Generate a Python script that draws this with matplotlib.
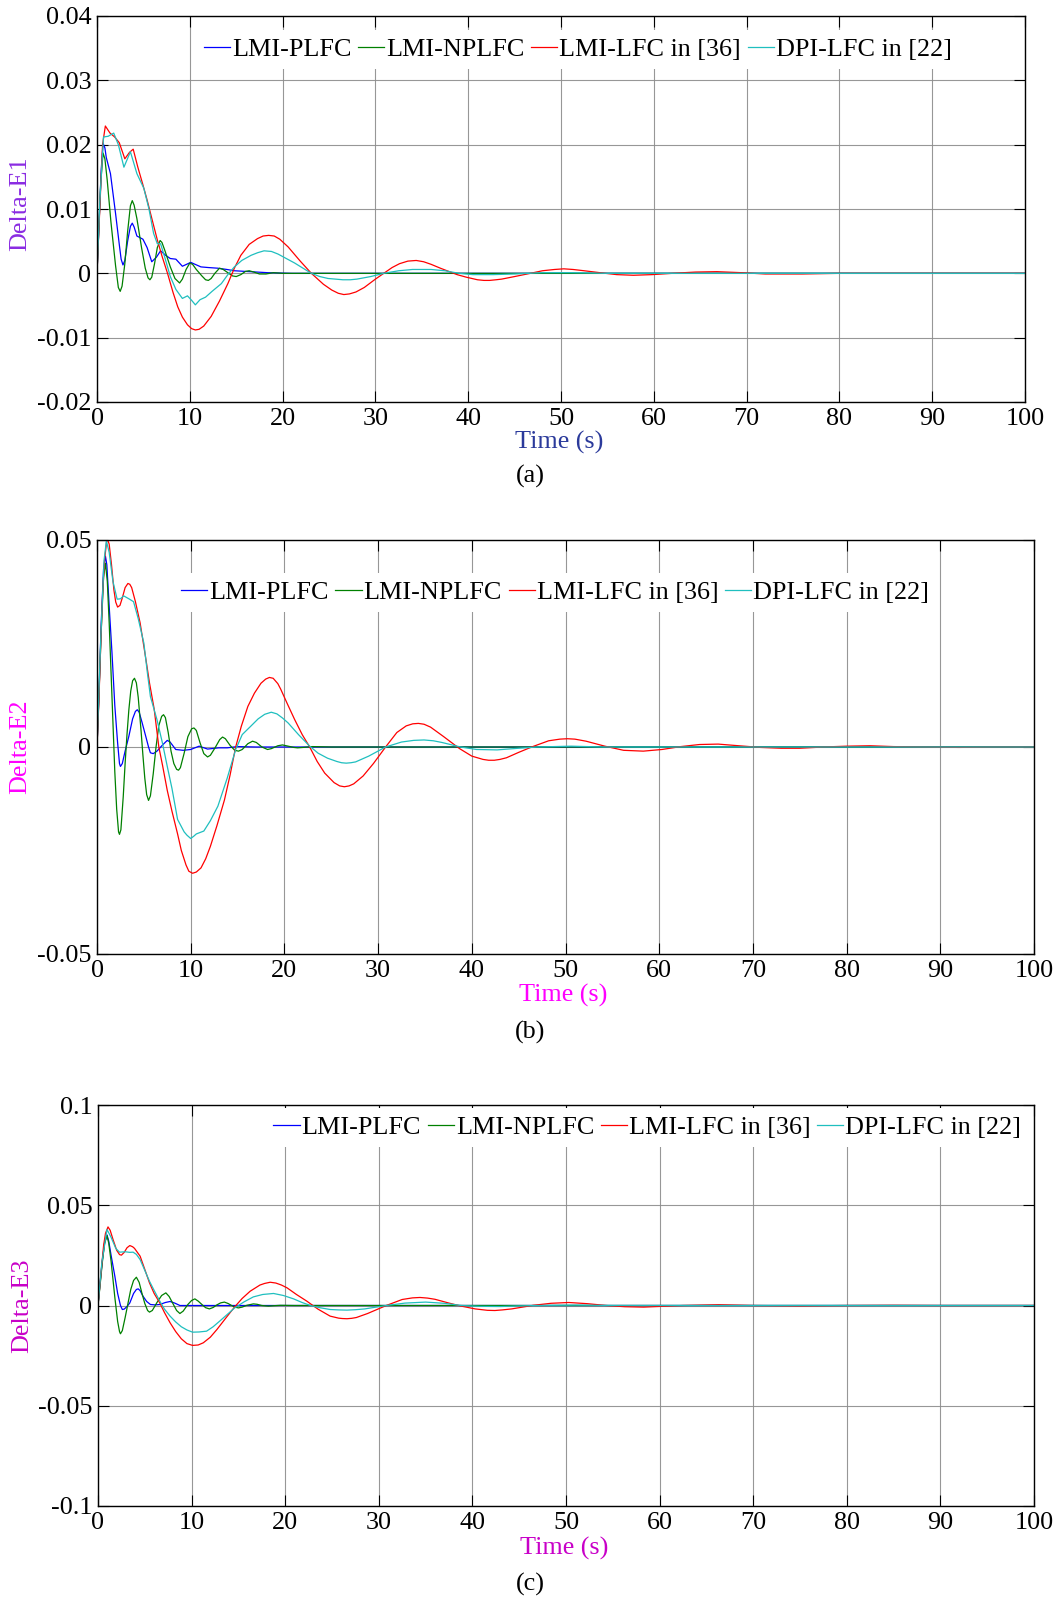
import matplotlib
matplotlib.use("Agg")
import matplotlib.pyplot as plt

plt.rcParams['font.family'] = ['Liberation Serif', 'DejaVu Serif']
plt.rcParams['axes.unicode_minus'] = False

series_names = ["LMI-PLFC", "LMI-NPLFC", "LMI-LFC in [36]", "DPI-LFC in [22]"]
series_colors = ["#0000FF", "#008000", "#FF0000", "#1FBFBF"]

x_ticks = [0, 10, 20, 30, 40, 50, 60, 70, 80, 90, 100]

# ---------------- Panel (a): Delta-E1 ----------------
a_blue_t = [0, 0.2, 0.45, 0.65, 0.85, 1.0, 1.45, 2.0, 2.4, 2.6, 2.8, 3.0, 3.3, 3.6, 3.8, 4.0, 4.3, 4.95, 5.4, 5.9, 6.4, 6.85, 7.4, 7.9, 8.5, 9.2, 10.1, 11.2, 12.0, 13.0, 14.0, 14.8, 16, 18.4, 21, 100]
a_blue_v = [0, 0.007, 0.016, 0.0202, 0.0195, 0.018, 0.0155, 0.0093, 0.0045, 0.0022, 0.0013, 0.0020, 0.0050, 0.0073, 0.0078, 0.0072, 0.0058, 0.0053, 0.0040, 0.0018, 0.0025, 0.0035, 0.0028, 0.0023, 0.0022, 0.0011, 0.0017, 0.0010, 0.0009, 0.0008, 0.0006, 0.0004, 0.0003, 0.0001, 0.0, 0.0]

a_green_t = [0, 0.2, 0.4, 0.65, 0.85, 1.1, 1.5, 2.0, 2.3, 2.5, 2.7, 3.0, 3.3, 3.6, 3.8, 4.0, 4.3, 4.8, 5.2, 5.5, 5.7, 5.9, 6.2, 6.5, 6.8, 7.0, 7.3, 7.9, 8.4, 8.9, 9.2, 9.6, 10.0, 10.3, 10.7, 11.3, 11.7, 12.0, 12.3, 12.7, 13.2, 13.6, 14.2, 14.6, 15.0, 15.5, 16.0, 16.4, 16.9, 17.5, 18.2, 19.0, 20, 100]
a_green_v = [0, 0.007, 0.014, 0.0187, 0.0178, 0.0145, 0.008, 0.0012, -0.0022, -0.0028, -0.0020, 0.0015, 0.0065, 0.0105, 0.0113, 0.0106, 0.0085, 0.0040, 0.0008, -0.0007, -0.0010, -0.0006, 0.0015, 0.0040, 0.0051, 0.0048, 0.0036, 0.0010, -0.0008, -0.0015, -0.0009, 0.0006, 0.0016, 0.0014, 0.0006, -0.0004, -0.0010, -0.0011, -0.0008, 0.0, 0.0008, 0.0006, 0.0, -0.0004, -0.0005, -0.0002, 0.0003, 0.0004, 0.0002, -0.0001, -0.0001, 0.0001, 0.0, 0.0]

a_red_t = [0, 0.3, 0.6, 0.9, 1.4, 1.9, 2.4, 3.0, 3.5, 3.9, 4.4, 4.9, 5.4, 6.0, 6.5, 7.0, 7.6, 8.2, 8.7, 9.2, 9.75, 10.2, 10.6, 11.0, 11.5, 12.3, 13.2, 14.1, 14.8, 15.5, 16.4, 17.3, 17.9, 18.5, 19.1, 19.7, 20.6, 21.9, 23.1, 24.4, 25.3, 26.0, 26.6, 27.2, 27.9, 28.8, 30.0, 30.9, 31.8, 32.6, 33.5, 34.4, 35.2, 36.0, 37.0, 38.8, 39.8, 41.0, 41.7, 42.3, 43.0, 43.6, 45.0, 46.7, 48.0, 49.3, 50.3, 51.3, 52.5, 54.2, 56.0, 57.8, 59.8, 62.0, 64.5, 66.8, 69.5, 72.0, 76, 80, 85, 90, 95, 100]
a_red_v = [0, 0.010, 0.020, 0.0229, 0.0218, 0.0212, 0.0203, 0.0178, 0.0188, 0.0193, 0.0165, 0.0140, 0.0114, 0.0080, 0.0052, 0.0027, 0.0, -0.0030, -0.0052, -0.0068, -0.0080, -0.0086, -0.0088, -0.0087, -0.0082, -0.0067, -0.0043, -0.0016, 0.0008, 0.0028, 0.0045, 0.0054, 0.0058, 0.0059, 0.0058, 0.0053, 0.0041, 0.0019, 0.0, -0.0017, -0.0026, -0.0031, -0.0033, -0.0032, -0.0029, -0.0022, -0.0009, 0.0, 0.0009, 0.0015, 0.0019, 0.0020, 0.0018, 0.0014, 0.0008, -0.0002, -0.0006, -0.0010, -0.0011, -0.0011, -0.0010, -0.0009, -0.0005, 0.0, 0.0004, 0.0006, 0.0007, 0.0006, 0.0004, 0.0001, -0.0002, -0.0003, -0.0002, 0.0, 0.0002, 0.00026, 0.0001, -0.0001, -0.0001, 0.0, 0.0, 0.0, 0.0, 0.0]

a_cyan_t = [0, 0.3, 0.7, 1.2, 1.8, 2.3, 2.9, 3.6, 4.3, 5.05, 5.6, 6.1, 6.5, 6.85, 7.3, 7.9, 8.5, 9.2, 9.75, 10.2, 10.6, 11.1, 11.7, 12.4, 13.4, 14.1, 14.8, 15.6, 16.6, 17.3, 18.0, 18.8, 19.5, 20.4, 21.3, 22.2, 23.1, 24.0, 24.9, 25.7, 26.5, 27.3, 28.0, 29.5, 30.9, 32.5, 34.0, 35.0, 36.0, 37.5, 39.0, 40.5, 42.7, 45, 48, 51, 55, 100]
a_cyan_v = [0, 0.011, 0.0212, 0.0213, 0.0218, 0.0200, 0.0165, 0.0189, 0.0155, 0.0132, 0.0100, 0.0062, 0.0046, 0.0046, 0.0025, -0.0005, -0.0025, -0.0039, -0.0035, -0.0042, -0.0049, -0.0041, -0.0037, -0.0028, -0.0016, -0.0002, 0.0010, 0.0020, 0.0028, 0.0032, 0.0035, 0.0034, 0.0030, 0.0023, 0.0016, 0.0008, 0.0, -0.0005, -0.0008, -0.0009, -0.0010, -0.0010, -0.0009, -0.0005, 0.0, 0.0004, 0.0006, 0.0006, 0.0006, 0.0004, 0.0, -0.0002, -0.0002, -0.0001, 0.0001, 0.0001, 0.0, 0.0]

a_yticks = [-0.02, -0.01, 0, 0.01, 0.02, 0.03, 0.04]
a_yticklabels = ["-0.02", "-0.01", "0", "0.01", "0.02", "0.03", "0.04"]

# ---------------- Panel (b): Delta-E2 ----------------
b_blue_t = [0, 0.2, 0.45, 0.7, 0.9, 1.05, 1.3, 1.6, 1.9, 2.2, 2.4, 2.5, 2.7, 3.0, 3.4, 3.8, 4.1, 4.3, 4.5, 4.8, 5.2, 5.5, 5.7, 6.0, 6.4, 7.0, 7.5, 7.8, 8.4, 9.2, 10.0, 10.9, 11.8, 13.0, 13.9, 15, 17, 100]
b_blue_v = [0, 0.012, 0.030, 0.043, 0.0461, 0.044, 0.034, 0.0227, 0.010, 0.001, -0.0040, -0.0047, -0.0040, -0.0010, 0.0026, 0.0068, 0.0086, 0.0090, 0.0084, 0.0060, 0.0026, 0.0, -0.0014, -0.0016, -0.0010, 0.0005, 0.0016, 0.0012, -0.0006, -0.0008, -0.0006, 0.0002, -0.0005, -0.0002, -0.0002, 0.0001, 0.0, 0.0]

b_green_t = [0, 0.2, 0.45, 0.7, 0.9, 1.1, 1.3, 1.5, 1.7, 1.9, 2.1, 2.3, 2.4, 2.55, 2.8, 3.0, 3.2, 3.4, 3.6, 3.8, 4.0, 4.2, 4.4, 4.7, 4.9, 5.1, 5.3, 5.5, 5.7, 6.0, 6.3, 6.6, 6.9, 7.1, 7.3, 7.6, 7.9, 8.2, 8.5, 8.7, 8.9, 9.3, 9.7, 10.1, 10.35, 10.6, 11.0, 11.4, 11.8, 12.1, 12.6, 13.1, 13.4, 13.7, 14.2, 14.7, 15.1, 15.5, 16.1, 16.6, 17.0, 17.6, 18.2, 18.6, 19.3, 19.8, 20.4, 21.0, 21.4, 22, 23, 25, 100]
b_green_v = [0, 0.012, 0.028, 0.041, 0.0444, 0.040, 0.030, 0.018, 0.006, -0.006, -0.015, -0.0205, -0.0211, -0.0200, -0.012, -0.004, 0.003, 0.009, 0.0135, 0.0160, 0.0166, 0.0155, 0.0120, 0.004, -0.002, -0.0075, -0.0115, -0.0129, -0.0118, -0.0065, 0.0, 0.0052, 0.0074, 0.0078, 0.0071, 0.0035, -0.0010, -0.0040, -0.0054, -0.0056, -0.0050, -0.0015, 0.0025, 0.0044, 0.0046, 0.0040, 0.0010, -0.0016, -0.0024, -0.0020, -0.0002, 0.0018, 0.0024, 0.0020, 0.0004, -0.0008, -0.0010, -0.0006, 0.0008, 0.0014, 0.0011, 0.0, -0.0006, -0.0004, 0.0003, 0.0005, 0.0002, -0.0001, -0.0002, -0.0001, 0.0001, 0.0, 0.0]

b_red_t = [0, 0.2, 0.4, 0.6, 0.8, 1.07, 1.3, 1.55, 1.8, 2.0, 2.2, 2.45, 2.7, 3.0, 3.3, 3.5, 3.7, 4.1, 4.6, 5.0, 5.3, 5.6, 6.1, 6.6, 7.0, 7.5, 8.0, 8.6, 9.0, 9.5, 9.8, 10.2, 10.6, 11.1, 11.6, 12.1, 12.8, 13.6, 14.2, 14.8, 15.4, 16.1, 16.8, 17.5, 18.0, 18.4, 18.8, 19.3, 19.6, 20.3, 21.1, 21.9, 22.7, 23.5, 24.3, 25.3, 25.9, 26.4, 26.9, 27.4, 28.4, 29.5, 30.8, 32.0, 33.0, 33.7, 34.3, 34.9, 35.6, 37.0, 38.7, 40.0, 41.2, 41.8, 42.4, 43.0, 43.7, 45.0, 46.5, 48.2, 49.4, 50.2, 51.0, 52.2, 54.2, 56.2, 58.3, 60.3, 62.3, 64.3, 66.3, 68.5, 70.8, 73, 75, 77.5, 80, 82.5, 85, 88, 92, 96, 100]
b_red_v = [0, 0.011, 0.025, 0.037, 0.045, 0.0505, 0.049, 0.044, 0.038, 0.0350, 0.0338, 0.0342, 0.0360, 0.0385, 0.0395, 0.0393, 0.0385, 0.0351, 0.0300, 0.0243, 0.0200, 0.0155, 0.0092, 0.0, -0.0045, -0.0105, -0.0155, -0.0210, -0.0250, -0.0285, -0.0300, -0.0305, -0.0302, -0.0292, -0.0270, -0.0240, -0.0190, -0.0128, -0.0068, 0.0, 0.0050, 0.0098, 0.0130, 0.0154, 0.0164, 0.0168, 0.0166, 0.0153, 0.0140, 0.0105, 0.0066, 0.0030, 0.0, -0.0035, -0.0063, -0.0086, -0.0094, -0.0096, -0.0094, -0.0089, -0.0070, -0.0040, 0.0, 0.0035, 0.0051, 0.0056, 0.0057, 0.0055, 0.0048, 0.0025, -0.0004, -0.0022, -0.0030, -0.0032, -0.0032, -0.0030, -0.0026, -0.0013, 0.0001, 0.0015, 0.0019, 0.0020, 0.0019, 0.0014, 0.0002, -0.0008, -0.0010, -0.0006, 0.0001, 0.0006, 0.0007, 0.0003, -0.0001, -0.0003, -0.0003, 0.0, 0.0002, 0.0003, 0.0001, 0.0, -0.0001, 0.0, 0.0]

b_cyan_t = [0, 0.4, 0.75, 1.0, 1.3, 1.7, 2.15, 2.5, 2.85, 3.4, 3.9, 4.4, 5.0, 5.4, 5.7, 6.0, 6.4, 7.0, 7.5, 8.0, 8.6, 9.3, 9.6, 10.0, 10.3, 10.6, 11.4, 12.1, 12.9, 13.9, 14.8, 15.5, 16.4, 17.2, 17.9, 18.6, 19.2, 19.8, 20.4, 21.5, 22.7, 23.6, 24.6, 25.6, 26.1, 26.6, 27.1, 27.6, 29.0, 30.8, 32.5, 33.8, 34.9, 35.9, 36.8, 38.8, 40.5, 42.7, 45, 47, 50.6, 54, 100]
b_cyan_v = [0, 0.026, 0.045, 0.0498, 0.047, 0.040, 0.0357, 0.0358, 0.0365, 0.0358, 0.0351, 0.031, 0.0251, 0.0175, 0.0122, 0.0098, 0.0066, 0.0008, -0.0047, -0.0100, -0.0175, -0.0205, -0.0213, -0.0221, -0.0216, -0.0210, -0.0203, -0.0178, -0.0143, -0.0075, -0.0006, 0.0030, 0.0050, 0.0068, 0.0079, 0.0084, 0.0080, 0.0070, 0.0058, 0.0030, 0.0002, -0.0015, -0.0027, -0.0035, -0.0038, -0.0039, -0.0038, -0.0036, -0.0022, 0.0, 0.0012, 0.0016, 0.0017, 0.0015, 0.0011, 0.0, -0.0006, -0.0007, -0.0003, 0.0, 0.0002, 0.0, 0.0]

b_yticks = [-0.05, 0, 0.05]
b_yticklabels = ["-0.05", "0", "0.05"]

# ---------------- Panel (c): Delta-E3 ----------------
c_blue_t = [0, 0.2, 0.45, 0.7, 0.96, 1.15, 1.4, 1.8, 2.1, 2.4, 2.6, 2.8, 3.1, 3.4, 3.8, 4.1, 4.3, 4.5, 4.8, 5.2, 5.6, 6.1, 6.6, 7.2, 7.7, 8.2, 8.75, 10.9, 100]
c_blue_v = [0, 0.010, 0.022, 0.031, 0.0352, 0.032, 0.025, 0.0146, 0.006, 0.0, -0.0020, -0.0018, -0.0005, 0.0013, 0.0060, 0.0080, 0.0083, 0.0074, 0.0047, 0.0020, 0.0005, 0.0003, 0.0005, 0.0015, 0.0020, 0.0012, 0.0, 0.0, 0.0]

c_green_t = [0, 0.2, 0.45, 0.7, 0.96, 1.15, 1.4, 1.8, 2.1, 2.3, 2.4, 2.6, 2.9, 3.2, 3.5, 3.8, 4.1, 4.4, 4.7, 5.0, 5.3, 5.5, 5.8, 6.3, 6.8, 7.25, 7.6, 8.0, 8.4, 8.75, 9.1, 9.6, 10.0, 10.35, 10.7, 11.1, 11.5, 11.9, 12.3, 12.7, 13.1, 13.5, 13.9, 14.2, 14.6, 15.0, 15.4, 15.9, 16.6, 17.0, 17.5, 18.2, 18.8, 19.5, 21, 100]
c_green_v = [0, 0.009, 0.021, 0.031, 0.0349, 0.031, 0.022, 0.004, -0.008, -0.013, -0.0141, -0.0125, -0.006, 0.001, 0.008, 0.0125, 0.0141, 0.0115, 0.006, 0.0010, -0.0025, -0.0033, -0.0025, 0.0015, 0.0050, 0.0063, 0.0045, 0.0010, -0.0025, -0.0040, -0.0028, 0.0005, 0.0025, 0.0033, 0.0022, 0.0005, -0.0011, -0.0017, -0.0010, 0.0003, 0.0013, 0.0017, 0.0010, 0.0002, -0.0008, -0.0012, -0.0008, 0.0001, 0.0008, 0.0006, 0.0, -0.0003, -0.0001, 0.0001, 0.0, 0.0]

c_red_t = [0, 0.2, 0.4, 0.6, 0.8, 1.07, 1.3, 1.6, 2.0, 2.3, 2.5, 2.8, 3.1, 3.4, 3.7, 3.9, 4.5, 5.0, 5.5, 6.0, 6.6, 7.1, 7.7, 8.3, 8.9, 9.5, 10.1, 10.7, 11.25, 12.0, 12.7, 13.7, 14.6, 15.4, 16.25, 17.3, 17.8, 18.4, 19.0, 19.6, 20.2, 21.2, 22.3, 23.5, 24.8, 25.7, 26.1, 26.6, 27.1, 27.6, 28.8, 30.8, 32.5, 33.6, 34.4, 35.2, 36.0, 37.5, 38.8, 40.3, 41.6, 42.4, 43.2, 44.2, 46.5, 48.4, 50.3, 52.3, 54.3, 56.3, 58.3, 60.3, 62.5, 66.3, 70, 75, 80, 85, 90, 100]
c_red_v = [0, 0.010, 0.020, 0.030, 0.036, 0.0392, 0.0375, 0.033, 0.0275, 0.0254, 0.0251, 0.0265, 0.0288, 0.0299, 0.0293, 0.0285, 0.0246, 0.018, 0.0113, 0.0060, 0.0013, -0.0035, -0.0086, -0.0130, -0.0166, -0.0190, -0.0199, -0.0197, -0.0186, -0.0158, -0.0120, -0.0060, -0.0007, 0.0035, 0.0071, 0.0102, 0.0110, 0.0116, 0.0112, 0.0102, 0.0088, 0.0055, 0.0022, -0.0018, -0.0053, -0.0063, -0.0065, -0.0066, -0.0064, -0.0060, -0.0040, 0.0, 0.0030, 0.0038, 0.0040, 0.0037, 0.0031, 0.0012, -0.0003, -0.0017, -0.0024, -0.0025, -0.0022, -0.0017, 0.0001, 0.0011, 0.0015, 0.0009, 0.0, -0.0006, -0.0008, -0.0004, 0.0, 0.0004, 0.0, -0.0002, 0.0, 0.0001, 0.0, 0.0]

c_cyan_t = [0, 0.4, 0.96, 1.4, 1.9, 2.3, 2.9, 3.4, 3.75, 4.1, 4.5, 5.0, 5.5, 6.0, 6.6, 7.1, 7.7, 8.3, 8.9, 9.5, 10.1, 10.8, 11.6, 12.3, 13.0, 13.8, 14.6, 15.6, 16.6, 17.6, 18.75, 19.8, 20.9, 21.8, 22.7, 23.7, 24.8, 25.7, 26.6, 27.5, 28.5, 30.8, 32.8, 35.0, 37.0, 38.8, 40.8, 43, 45, 47, 51, 55, 100]
c_cyan_v = [0, 0.021, 0.0379, 0.034, 0.0285, 0.0266, 0.0268, 0.0265, 0.0266, 0.0255, 0.0229, 0.0175, 0.0121, 0.0075, 0.0022, -0.0018, -0.0053, -0.0082, -0.0106, -0.0122, -0.0133, -0.0132, -0.0128, -0.0106, -0.0078, -0.0045, -0.0012, 0.0018, 0.0043, 0.0055, 0.0060, 0.0050, 0.0033, 0.0015, 0.0, -0.0011, -0.0020, -0.0022, -0.0023, -0.0021, -0.0017, 0.0, 0.0012, 0.0017, 0.0011, 0.0, -0.0004, -0.0005, -0.0002, 0.0, 0.0002, 0.0, 0.0]

c_yticks = [-0.1, -0.05, 0, 0.05, 0.1]
c_yticklabels = ["-0.1", "-0.05", "0", "0.05", "0.1"]

# ---------------- Figure ----------------
W, H = 1059, 1600
fig = plt.figure(figsize=(W / 100, H / 100), dpi=100)
FS = 18.8


def make_axes(left, right, top, bottom):
    return fig.add_axes([left / W, 1 - bottom / H, (right - left) / W, (bottom - top) / H])


panels = [
    dict(box=(97, 1025, 16, 402),
         data=[(a_blue_t, a_blue_v), (a_green_t, a_green_v), (a_red_t, a_red_v), (a_cyan_t, a_cyan_v)],
         ylim=(-0.02, 0.04), yticks=a_yticks, yticklabels=a_yticklabels,
         ylabel="Delta-E1", ycolor="#8A2BE2", xcolor="#2B3A9B",
         ylab_pos=(-0.083, 0.513), xlab_pos=(0.498, -0.106),
         leg=(0.518, 0.914), cap="(a)", cap_y=476),
    dict(box=(97, 1034, 540, 954),
         data=[(b_blue_t, b_blue_v), (b_green_t, b_green_v), (b_red_t, b_red_v), (b_cyan_t, b_cyan_v)],
         ylim=(-0.05, 0.05), yticks=b_yticks, yticklabels=b_yticklabels,
         ylabel="Delta-E2", ycolor="#FF00FF", xcolor="#FF00FF",
         ylab_pos=(-0.082, 0.5), xlab_pos=(0.498, -0.101),
         leg=(0.489, 0.874), cap="(b)", cap_y=1032),
    dict(box=(98, 1034, 1105, 1506),
         data=[(c_blue_t, c_blue_v), (c_green_t, c_green_v), (c_red_t, c_red_v), (c_cyan_t, c_cyan_v)],
         ylim=(-0.1, 0.1), yticks=c_yticks, yticklabels=c_yticklabels,
         ylabel="Delta-E3", ycolor="#C800C8", xcolor="#C800C8",
         ylab_pos=(-0.081, 0.5), xlab_pos=(0.498, -0.107),
         leg=(0.587, 0.945), cap="(c)", cap_y=1584),
]

for p in panels:
    ax = make_axes(*p["box"])
    for (t, v), name, col in zip(p["data"], series_names, series_colors):
        ax.plot(t, v, color=col, lw=0.9, label=name, solid_joinstyle="round")
    ax.set_xlim(0, 100)
    ax.set_ylim(*p["ylim"])
    ax.set_xticks(x_ticks)
    ax.set_xticklabels([str(x) for x in x_ticks])
    ax.set_yticks(p["yticks"])
    ax.set_yticklabels(p["yticklabels"])
    ax.tick_params(direction="in", length=8, width=0.8, top=True, right=True,
                   labelsize=FS, pad=4, colors="black")
    ax.grid(True, color="#8c8c8c", lw=0.8, alpha=0.9)
    ax.set_axisbelow(True)
    for s in ax.spines.values():
        s.set_linewidth(1.0)
        s.set_color("black")
        s.set_zorder(6)
    ax.set_ylabel(p["ylabel"], color=p["ycolor"], fontsize=FS)
    ax.yaxis.set_label_coords(*p["ylab_pos"])
    ax.yaxis.label.set_va("center")
    ax.set_xlabel("Time (s)", color=p["xcolor"], fontsize=FS)
    ax.xaxis.set_label_coords(*p["xlab_pos"])
    ax.xaxis.label.set_va("center")
    leg = ax.legend(loc="center", bbox_to_anchor=p["leg"], ncol=4, fontsize=FS,
                    handlelength=1.0, handletextpad=0.08, columnspacing=0.25,
                    borderpad=0.3, borderaxespad=0, frameon=True, fancybox=False)
    fr = leg.get_frame()
    fr.set_facecolor("white")
    fr.set_edgecolor("none")
    fr.set_alpha(1.0)
    fig.text(530 / W, 1 - p["cap_y"] / H, p["cap"], ha="center", va="center", fontsize=FS)

fig.savefig("out.png", dpi=100)
